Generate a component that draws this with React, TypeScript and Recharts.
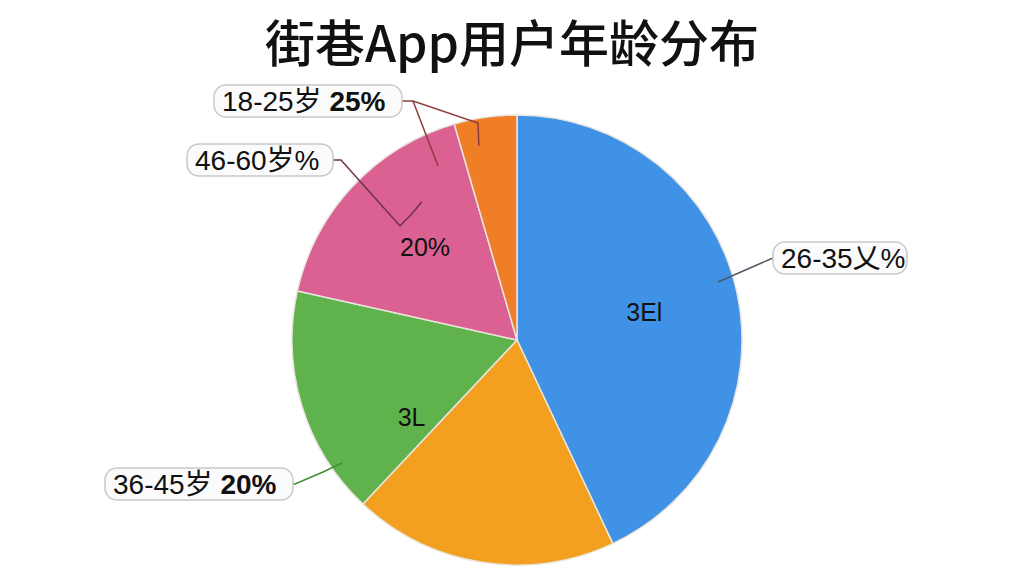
import { Pie, PieChart, Cell } from "recharts";

const ageGroups = ["26-35岁", "其他", "36-45岁", "46-60岁", "18-25岁"];
const shares = [43, 19, 16.5, 17, 4.5];
const sliceColors = ["#3f92e6", "#f3a020", "#60b24d", "#da6191", "#ef7e27"];
const outerPlain = ["26-35乂%", "", "36-45岁 ", "46-60岁%", "18-25岁 "];
const outerBold = ["", "", "20%", "", "25%"];
const innerTexts = ["3El", "", "3L", "20%", ""];

const data = ageGroups.map((name, i) => ({ name, value: shares[i] }));

const RAD = Math.PI / 180;
const polar = (cx: number, cy: number, r: number, deg: number) => ({
  x: cx + r * Math.cos(-deg * RAD),
  y: cy + r * Math.sin(-deg * RAD),
});

// label box placement relative to the pie centre
const boxes: Record<number, { left: number; width: number; dy: number; line: string; via: [number, number][]; r: number; shift: number }> = {
  0: { left: 256, width: 134, dy: -82, line: "#4d5966", via: [], r: 0.93, shift: 3.5 },
  2: { left: -412, width: 188, dy: 144, line: "#3f8c33", via: [[-222, 144], [-194, 132]], r: 0.95, shift: 18 },
  3: { left: -330, width: 146, dy: -180, line: "#6a3447", via: [[-176, -180], [-117, -114]], r: 0.73, shift: -7 },
  4: { left: -303, width: 188, dy: -239, line: "#8e3b3b", via: [[-104, -239], [-39, -217]], r: 0.88, shift: 3 },
};
const innerShift = [0, 0, 19, -2, 0];

function renderLabel(props: any) {
  const { cx, cy, midAngle, outerRadius, index } = props;
  const nodes: any[] = [];
  const inner = innerTexts[index];
  if (inner) {
    const p = polar(cx, cy, outerRadius * 0.58, midAngle + innerShift[index]);
    nodes.push(
      <text key="in" x={p.x} y={p.y} textAnchor="middle" dominantBaseline="central"
        fontFamily="'Liberation Sans', 'Noto Sans CJK SC', sans-serif" fontSize={25} fill="#111">
        {inner}
      </text>
    );
  }
  const b = boxes[index];
  if (b) {
    const bx = cx + b.left;
    const by = cy + b.dy;
    const end = polar(cx, cy, outerRadius * b.r, midAngle + b.shift);
    const startX = b.left > 0 ? bx : bx + b.width;
    const pts = [[startX, by], ...b.via.map(([dx, dy]) => [cx + dx, cy + dy]), [end.x, end.y]];
    nodes.push(
      <polyline key="ln" points={pts.map((p) => p.join(",")).join(" ")} fill="none" stroke={b.line} strokeWidth={1.5} />
    );
    if (index === 4) {
      nodes.push(
        <line key="ln2" x1={cx - 104} y1={by} x2={cx - 79} y2={cy - 174} stroke={b.line} strokeWidth={1.5} />
      );
    }
    if (index === 3) {
      nodes.push(
        <line key="ln3" x1={end.x} y1={end.y} x2={end.x + 10} y2={end.y - 12} stroke={b.line} strokeWidth={1.5} />
      );
    }
    nodes.push(
      <rect key="bx" x={bx} y={by - 16} width={b.width} height={32} rx={12}
        fill="#fbfbfb" stroke="#c9c9c9" strokeWidth={1.5} />
    );
    nodes.push(
      <text key="tx" x={bx + 8} y={by} dominantBaseline="central"
        fontFamily="'Liberation Sans', 'Noto Sans CJK SC', sans-serif" fontSize={28} fill="#111">
        {outerPlain[index]}
        {outerBold[index] && <tspan fontWeight="bold">{outerBold[index]}</tspan>}
      </text>
    );
  }
  return <g>{nodes}</g>;
}

export default function App() {
  return (
    <div style={{ position: "absolute", left: 0, top: 0, width: 1024, height: 576, background: "#fff" }}>
      <div
        style={{
          position: "absolute", left: 0, top: 10, width: 1024, textAlign: "center",
          fontFamily: "'Noto Sans CJK SC', sans-serif", fontSize: 50, fontWeight: 500,
          lineHeight: "60px", color: "#111",
        }}
      >
        街巷App用户年龄分布
      </div>
      <PieChart width={1024} height={576} margin={{ top: 0, right: 0, bottom: 0, left: 0 }}
        style={{ position: "absolute", left: 0, top: 0 }}>
        <Pie
          data={data}
          dataKey="value"
          nameKey="name"
          cx={517}
          cy={340}
          outerRadius={225}
          startAngle={90}
          endAngle={-270}
          stroke="#e9e4de"
          strokeWidth={1.5}
          label={renderLabel}
          labelLine={false}
          isAnimationActive={false}
        >
          {data.map((_, i) => (
            <Cell key={i} fill={sliceColors[i]} />
          ))}
        </Pie>
      </PieChart>
    </div>
  );
}
